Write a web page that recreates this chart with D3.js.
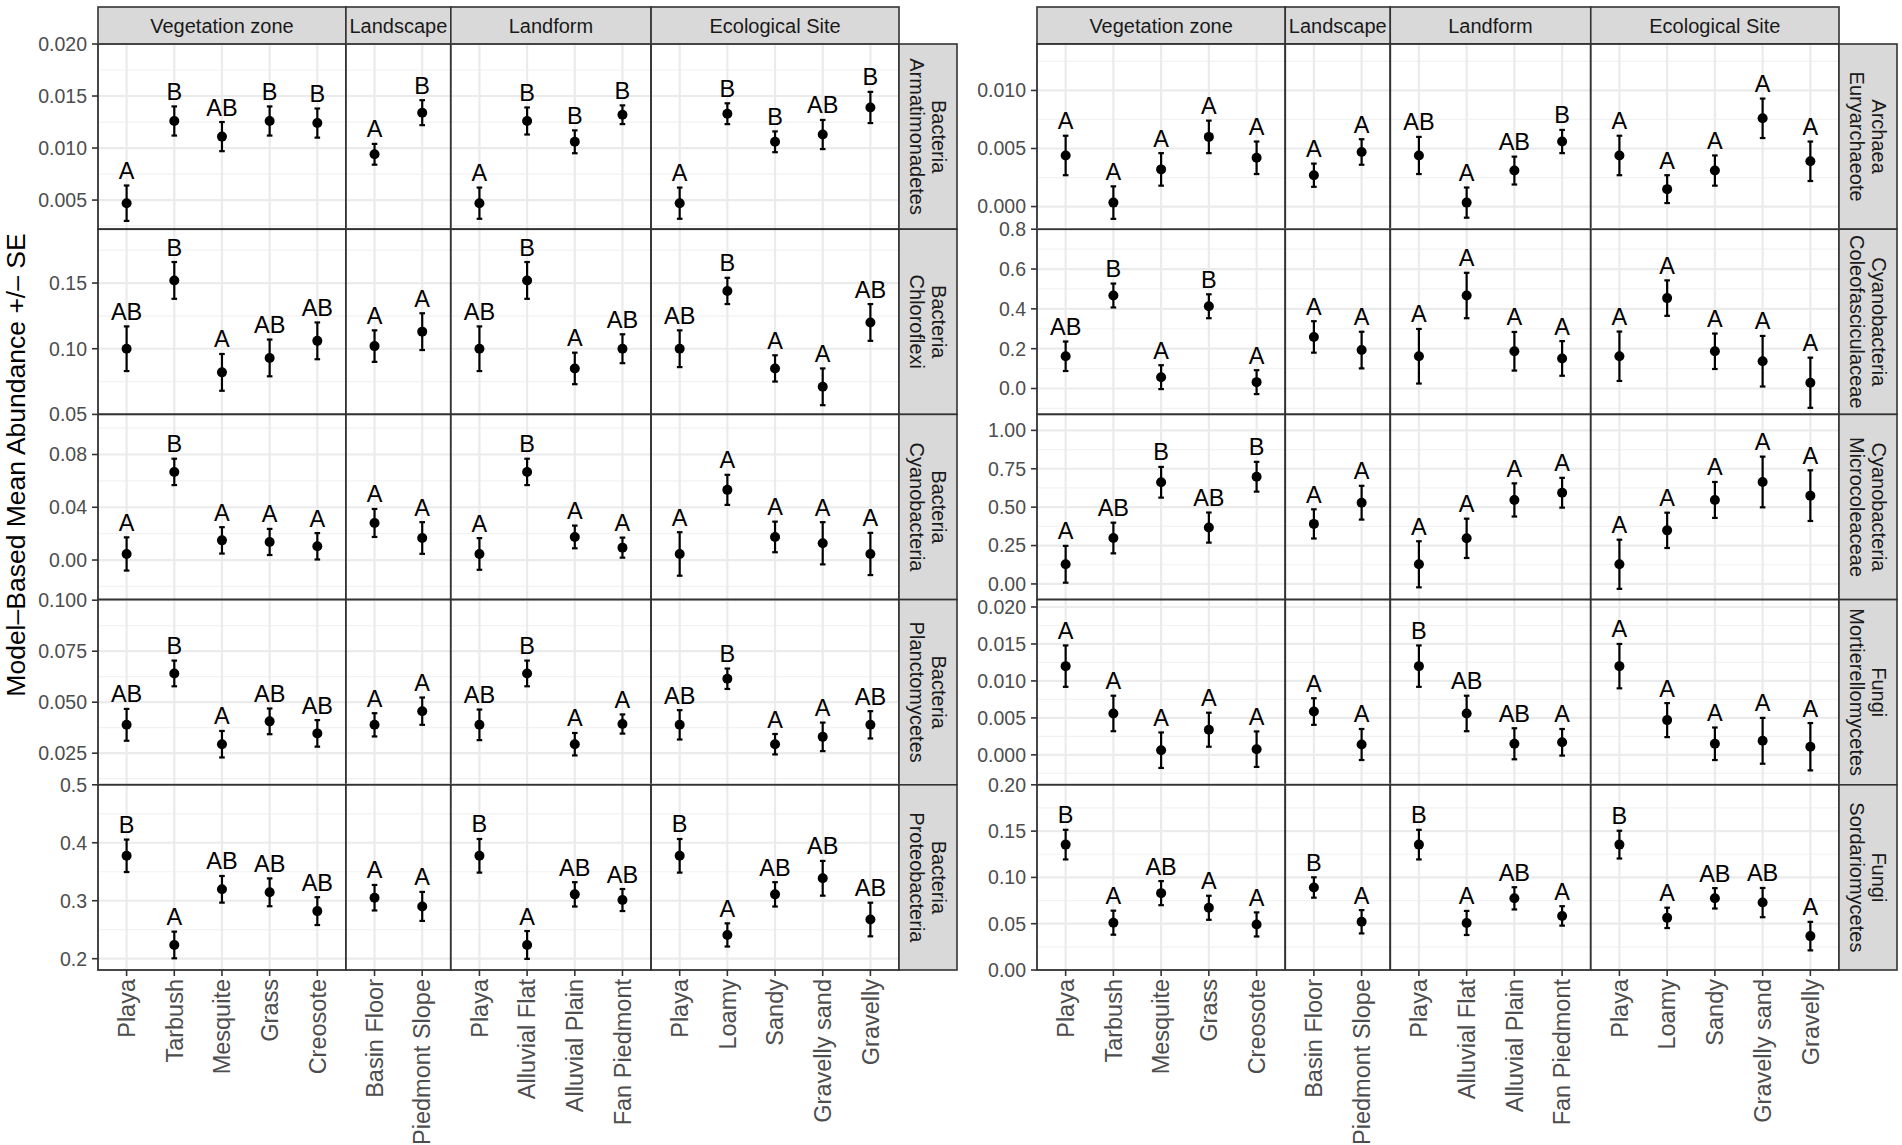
<!DOCTYPE html>
<html lang="en">
<head>
<meta charset="UTF-8" />
<title>Model-Based Mean Abundance by site factor</title>
<script src="https://d3js.org/d3.v7.min.js"></script>
<style>
  body { margin: 0; background: #ffffff; }
  svg { display: block; font-family: 'Liberation Sans', Arial, Helvetica, sans-serif; }
  .ytick { fill: #4d4d4d; font-size: 19.5px; }
  .xtick { fill: #4d4d4d; font-size: 23.5px; }
  .strip-text { fill: #1a1a1a; font-size: 20px; }
  .letter { fill: #000; font-size: 23.5px; }
  .ytitle { fill: #000; font-size: 26.5px; }
</style>
</head>
<body>
<svg id="chart" width="1902" height="1145"></svg>
<script>
// facet columns and their x categories
const groups = ["Vegetation zone", "Landscape", "Landform", "Ecological Site"];
const vegLevels = ["Playa", "Tarbush", "Mesquite", "Grass", "Creosote"];
const landscapeLevels = ["Basin Floor", "Piedmont Slope"];
const landformLevels = ["Playa", "Alluvial Flat", "Alluvial Plain", "Fan Piedmont"];
const ecoLevels = ["Playa", "Loamy", "Sandy", "Gravelly sand", "Gravelly"];

// each series: 16 values in the order veg(5), landscape(2), landform(4), eco(5)
// --- left figure ---
const armatMean = [0.0047, 0.0126, 0.0111, 0.0126, 0.0124, 0.0094, 0.0134, 0.0047, 0.0126, 0.0106, 0.0132, 0.0047, 0.0133, 0.0106, 0.0113, 0.0139];
const armatSE = [0.0017, 0.0014, 0.0014, 0.0014, 0.0014, 0.0010, 0.0012, 0.0015, 0.0013, 0.0011, 0.0009, 0.0015, 0.0010, 0.0010, 0.0014, 0.0015];
const armatLetters = ["A", "B", "AB", "B", "B", "A", "B", "A", "B", "B", "B", "A", "B", "B", "AB", "B"];
const armatTicks = ["0.005", "0.010", "0.015", "0.020"];
const armatRange = [0.0022, 0.0200];

const chlorMean = [0.100, 0.152, 0.082, 0.093, 0.106, 0.102, 0.113, 0.100, 0.152, 0.085, 0.100, 0.100, 0.144, 0.085, 0.071, 0.120];
const chlorSE = [0.017, 0.014, 0.014, 0.014, 0.014, 0.012, 0.014, 0.017, 0.014, 0.012, 0.011, 0.014, 0.010, 0.010, 0.014, 0.014];
const chlorLetters = ["AB", "B", "A", "AB", "AB", "A", "A", "AB", "B", "A", "AB", "AB", "B", "A", "A", "AB"];
const chlorTicks = ["0.05", "0.10", "0.15"];
const chlorRange = [0.05, 0.191];

const cyanoMean = [0.0046, 0.0668, 0.0149, 0.0137, 0.0104, 0.0281, 0.0167, 0.0046, 0.0668, 0.0175, 0.0094, 0.0046, 0.0532, 0.0175, 0.0127, 0.0046];
const cyanoSE = [0.0126, 0.0100, 0.0100, 0.0099, 0.0100, 0.0106, 0.0120, 0.0120, 0.0100, 0.0086, 0.0076, 0.0165, 0.0114, 0.0116, 0.0160, 0.0160];
const cyanoLetters = ["A", "B", "A", "A", "A", "A", "A", "A", "B", "A", "A", "A", "A", "A", "A", "A"];
const cyanoTicks = ["0.00", "0.04", "0.08"];
const cyanoRange = [-0.030, 0.1104];

const planctMean = [0.0389, 0.0641, 0.0294, 0.0406, 0.0347, 0.0389, 0.0456, 0.0389, 0.0641, 0.0294, 0.0393, 0.0389, 0.0615, 0.0294, 0.0330, 0.0389];
const planctSE = [0.0078, 0.0063, 0.0065, 0.0063, 0.0065, 0.0057, 0.0067, 0.0075, 0.0063, 0.0055, 0.0047, 0.0072, 0.0050, 0.0050, 0.0070, 0.0067];
const planctLetters = ["AB", "B", "A", "AB", "AB", "A", "A", "AB", "B", "A", "A", "AB", "B", "A", "A", "AB"];
const planctTicks = ["0.025", "0.050", "0.075", "0.100"];
const planctRange = [0.0095, 0.1003];

const proteoMean = [0.3775, 0.2237, 0.3197, 0.3145, 0.2821, 0.3052, 0.2902, 0.3775, 0.2237, 0.3110, 0.3012, 0.3775, 0.2410, 0.3110, 0.3387, 0.2676];
const proteoSE = [0.028, 0.023, 0.023, 0.024, 0.024, 0.022, 0.025, 0.029, 0.024, 0.021, 0.019, 0.029, 0.020, 0.021, 0.030, 0.029];
const proteoLetters = ["B", "A", "AB", "AB", "AB", "A", "A", "B", "A", "AB", "AB", "B", "A", "AB", "AB", "AB"];
const proteoTicks = ["0.2", "0.3", "0.4", "0.5"];
const proteoRange = [0.1805, 0.5];

// --- right figure ---
const euryMean = [0.0044, 0.00034, 0.0032, 0.0060, 0.0042, 0.0027, 0.0047, 0.0044, 0.00034, 0.0031, 0.0056, 0.0044, 0.0015, 0.0031, 0.0076, 0.0039];
const eurySE = [0.0017, 0.0014, 0.0014, 0.0014, 0.0014, 0.0010, 0.0011, 0.0016, 0.0013, 0.0012, 0.0010, 0.0017, 0.0012, 0.0013, 0.0017, 0.0017];
const euryLetters = ["A", "A", "A", "A", "A", "A", "A", "AB", "A", "AB", "B", "A", "A", "A", "A", "A"];
const euryTicks = ["0.000", "0.005", "0.010"];
const euryRange = [-0.00195, 0.0140];

const coleoMean = [0.162, 0.467, 0.057, 0.413, 0.032, 0.259, 0.193, 0.162, 0.467, 0.187, 0.151, 0.162, 0.454, 0.187, 0.137, 0.029];
const coleoSE = [0.074, 0.060, 0.060, 0.060, 0.060, 0.079, 0.092, 0.137, 0.114, 0.097, 0.087, 0.124, 0.089, 0.089, 0.127, 0.126];
const coleoLetters = ["AB", "B", "A", "B", "A", "A", "A", "A", "A", "A", "A", "A", "A", "A", "A", "A"];
const coleoTicks = ["0.0", "0.2", "0.4", "0.6", "0.8"];
const coleoRange = [-0.13, 0.80];

const microMean = [0.128, 0.299, 0.662, 0.367, 0.698, 0.391, 0.529, 0.128, 0.297, 0.547, 0.594, 0.128, 0.349, 0.547, 0.664, 0.575];
const microSE = [0.120, 0.100, 0.100, 0.098, 0.097, 0.095, 0.110, 0.150, 0.128, 0.108, 0.097, 0.160, 0.115, 0.117, 0.165, 0.165];
const microLetters = ["A", "AB", "B", "AB", "B", "A", "A", "A", "A", "A", "A", "A", "A", "A", "A", "A"];
const microTicks = ["0.00", "0.25", "0.50", "0.75", "1.00"];
const microRange = [-0.102, 1.104];

const mortMean = [0.0120, 0.0056, 0.00063, 0.0034, 0.00077, 0.00586, 0.0014, 0.0120, 0.0056, 0.0015, 0.0017, 0.0120, 0.0047, 0.0015, 0.0019, 0.0011];
const mortSE = [0.0028, 0.0024, 0.0024, 0.0023, 0.0024, 0.0018, 0.0021, 0.0028, 0.0024, 0.0021, 0.0018, 0.0030, 0.0023, 0.0022, 0.0031, 0.0032];
const mortLetters = ["A", "A", "A", "A", "A", "A", "A", "B", "AB", "AB", "A", "A", "A", "A", "A", "A"];
const mortTicks = ["0.000", "0.005", "0.010", "0.015", "0.020"];
const mortRange = [-0.00405, 0.021];

const sordMean = [0.1354, 0.0511, 0.0830, 0.0672, 0.0492, 0.0891, 0.0521, 0.1354, 0.0508, 0.0774, 0.0584, 0.1354, 0.0563, 0.0774, 0.0728, 0.0366];
const sordSE = [0.016, 0.013, 0.013, 0.013, 0.013, 0.011, 0.0126, 0.016, 0.013, 0.012, 0.0105, 0.015, 0.011, 0.011, 0.0158, 0.0154];
const sordLetters = ["B", "A", "AB", "A", "A", "B", "A", "B", "A", "AB", "A", "B", "A", "AB", "AB", "A"];
const sordTicks = ["0.00", "0.05", "0.10", "0.15", "0.20"];
const sordRange = [0, 0.2];

const leftTaxa = [
  { name: ["Bacteria", "Armatimonadetes"], mean: armatMean, se: armatSE, letters: armatLetters, ticks: armatTicks, range: armatRange },
  { name: ["Bacteria", "Chloroflexi"], mean: chlorMean, se: chlorSE, letters: chlorLetters, ticks: chlorTicks, range: chlorRange },
  { name: ["Bacteria", "Cyanobacteria"], mean: cyanoMean, se: cyanoSE, letters: cyanoLetters, ticks: cyanoTicks, range: cyanoRange },
  { name: ["Bacteria", "Planctomycetes"], mean: planctMean, se: planctSE, letters: planctLetters, ticks: planctTicks, range: planctRange },
  { name: ["Bacteria", "Proteobacteria"], mean: proteoMean, se: proteoSE, letters: proteoLetters, ticks: proteoTicks, range: proteoRange }
];
const rightTaxa = [
  { name: ["Archaea", "Euryarchaeote"], mean: euryMean, se: eurySE, letters: euryLetters, ticks: euryTicks, range: euryRange },
  { name: ["Cyanobacteria", "Coleofasciculaceae"], mean: coleoMean, se: coleoSE, letters: coleoLetters, ticks: coleoTicks, range: coleoRange },
  { name: ["Cyanobacteria", "Microcoleaceae"], mean: microMean, se: microSE, letters: microLetters, ticks: microTicks, range: microRange },
  { name: ["Fungi", "Mortierellomycetes"], mean: mortMean, se: mortSE, letters: mortLetters, ticks: mortTicks, range: mortRange },
  { name: ["Fungi", "Sordariomycetes"], mean: sordMean, se: sordSE, letters: sordLetters, ticks: sordTicks, range: sordRange }
];

const levels = [vegLevels, landscapeLevels, landformLevels, ecoLevels];

// layout
const stripTop = 7, panelTop = 44, panelBottom = 970, stripW = 58;
const nRows = 5;
const rowH = (panelBottom - panelTop) / nRows;
const plots = [
  { x0: 98, x1: 899, taxa: leftTaxa, title: true },
  { x0: 1037, x1: 1839, taxa: rightTaxa, title: false }
];

const svg = d3.select("#chart");
svg.append("rect").attr("width", 1902).attr("height", 1145).attr("fill", "#fff");

plots.forEach(plot => {
  const g = svg.append("g");

  // free_x space: each column gets (n - 1 + 2*0.6) units
  const units = levels.map(l => l.length - 1 + 1.2);
  const totalUnits = d3.sum(units);
  const unitPx = (plot.x1 - plot.x0) / totalUnits;
  let cursor = plot.x0;
  const cols = levels.map((lv, i) => {
    const a = cursor, b = cursor + units[i] * unitPx;
    cursor = b;
    const x = d3.scalePoint().domain(d3.range(lv.length)).range([a, b]).padding(0.6);
    return { a, b, x, lv, offset: d3.sum(levels.slice(0, i), l => l.length) };
  });

  // top strips
  cols.forEach((c, i) => {
    g.append("rect")
      .attr("x", c.a).attr("y", stripTop)
      .attr("width", c.b - c.a).attr("height", panelTop - stripTop)
      .attr("fill", "#d9d9d9").attr("stroke", "#333").attr("stroke-width", 1.6);
    g.append("text").attr("class", "strip-text")
      .attr("x", (c.a + c.b) / 2).attr("y", (stripTop + panelTop) / 2)
      .attr("dy", "0.35em").attr("text-anchor", "middle")
      .text(groups[i]);
  });

  plot.taxa.forEach((tx, r) => {
    const top = panelTop + r * rowH, bottom = top + rowH;
    const y = d3.scaleLinear().domain(tx.range).range([bottom, top]);
    const tickVals = tx.ticks.map(Number);
    const step = tickVals[1] - tickVals[0];
    const minors = [];
    for (let v = tickVals[0] - step / 2; v <= tx.range[1] + 1e-12; v += step) {
      if (v >= tx.range[0] - 1e-12) minors.push(v);
    }

    cols.forEach(c => {
      const p = g.append("g");
      p.append("rect").attr("x", c.a).attr("y", top)
        .attr("width", c.b - c.a).attr("height", rowH).attr("fill", "#fff");
      p.selectAll(".minor").data(minors).join("line")
        .attr("x1", c.a).attr("x2", c.b)
        .attr("y1", d => y(d)).attr("y2", d => y(d))
        .attr("stroke", "#f2f2f2").attr("stroke-width", 1.2);
      p.selectAll(".major").data(tickVals).join("line")
        .attr("x1", c.a).attr("x2", c.b)
        .attr("y1", d => y(d)).attr("y2", d => y(d))
        .attr("stroke", "#ebebeb").attr("stroke-width", 2.2);
      p.selectAll(".vgrid").data(c.x.domain()).join("line")
        .attr("x1", d => c.x(d)).attr("x2", d => c.x(d))
        .attr("y1", top).attr("y2", bottom)
        .attr("stroke", "#ebebeb").attr("stroke-width", 2.2);

      const pts = c.x.domain().map(k => ({
        x: c.x(k),
        m: tx.mean[c.offset + k],
        s: tx.se[c.offset + k],
        l: tx.letters[c.offset + k]
      }));

      const eb = p.selectAll(".eb").data(pts).join("g");
      eb.append("line")
        .attr("x1", d => d.x).attr("x2", d => d.x)
        .attr("y1", d => y(d.m - d.s)).attr("y2", d => y(d.m + d.s))
        .attr("stroke", "#000").attr("stroke-width", 2.2);
      eb.append("line")
        .attr("x1", d => d.x - 2.8).attr("x2", d => d.x + 2.8)
        .attr("y1", d => y(d.m + d.s)).attr("y2", d => y(d.m + d.s))
        .attr("stroke", "#000").attr("stroke-width", 2.2);
      eb.append("line")
        .attr("x1", d => d.x - 2.8).attr("x2", d => d.x + 2.8)
        .attr("y1", d => y(d.m - d.s)).attr("y2", d => y(d.m - d.s))
        .attr("stroke", "#000").attr("stroke-width", 2.2);
      eb.append("circle")
        .attr("cx", d => d.x).attr("cy", d => y(d.m)).attr("r", 5)
        .attr("fill", "#000");
      eb.append("text").attr("class", "letter")
        .attr("x", d => d.x).attr("y", d => y(d.m + d.s) - 6.5)
        .attr("text-anchor", "middle")
        .text(d => d.l);

      p.append("rect").attr("x", c.a).attr("y", top)
        .attr("width", c.b - c.a).attr("height", rowH)
        .attr("fill", "none").attr("stroke", "#333").attr("stroke-width", 1.8);
    });

    // y axis
    const ya = g.append("g");
    ya.selectAll("line").data(tickVals).join("line")
      .attr("x1", plot.x0 - 6).attr("x2", plot.x0)
      .attr("y1", d => y(d)).attr("y2", d => y(d))
      .attr("stroke", "#333").attr("stroke-width", 1.6);
    ya.selectAll("text").data(tx.ticks).join("text").attr("class", "ytick")
      .attr("x", plot.x0 - 11).attr("y", d => y(+d))
      .attr("dy", "0.35em").attr("text-anchor", "end")
      .text(d => d);

    // right strip
    g.append("rect")
      .attr("x", plot.x1).attr("y", top)
      .attr("width", stripW).attr("height", rowH)
      .attr("fill", "#d9d9d9").attr("stroke", "#333").attr("stroke-width", 1.6);
    const cx = plot.x1 + stripW / 2, cy = top + rowH / 2;
    g.append("text").attr("class", "strip-text")
      .attr("transform", `translate(${cx},${cy}) rotate(90)`)
      .attr("text-anchor", "middle")
      .selectAll("tspan").data(tx.name).join("tspan")
      .attr("x", 0)
      .attr("y", (d, i) => (i === 0 ? -11 : 11))
      .attr("dy", "0.35em")
      .text(d => d);
  });

  // x axis on the bottom row
  cols.forEach(c => {
    const xa = g.append("g");
    xa.selectAll("line").data(c.x.domain()).join("line")
      .attr("x1", d => c.x(d)).attr("x2", d => c.x(d))
      .attr("y1", panelBottom).attr("y2", panelBottom + 6)
      .attr("stroke", "#333").attr("stroke-width", 1.6);
    xa.selectAll("text").data(c.x.domain()).join("text").attr("class", "xtick")
      .attr("transform", d => `translate(${c.x(d)},${panelBottom + 9}) rotate(-90)`)
      .attr("dy", "0.35em").attr("text-anchor", "end")
      .text(d => c.lv[d]);
  });

  if (plot.title) {
    g.append("text").attr("class", "ytitle")
      .attr("transform", "translate(16,465) rotate(-90)")
      .attr("dy", "0.35em").attr("text-anchor", "middle")
      .text("Model–Based Mean Abundance +/– SE");
  }
});
</script>
</body>
</html>
